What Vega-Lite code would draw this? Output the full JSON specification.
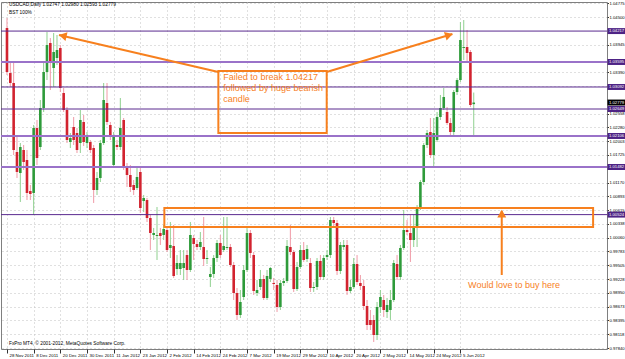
{
  "$schema": "https://vega.github.io/schema/vega-lite/v6.json",
  "width": 606,
  "height": 347,
  "autosize": {"type": "none"},
  "padding": {"left": 1, "top": 2, "right": 18, "bottom": 10},
  "background": "white",
  "config": {
    "view": {"stroke": "#7f7f7f", "strokeWidth": 1},
    "font": "Liberation Sans",
    "axis": {"labelFont": "Liberation Sans", "labelColor": "#000000", "labelOverlap": false, "labelFlush": false, "labelBound": false}
  },
  "resolve": {"axis": {"x": "independent", "y": "independent"}},
  "datasets": {
    "candles": [
      {"i":0,"o":1.04279,"h":1.04480,"l":1.03333,"c":1.03393},
      {"i":1,"o":1.03373,"h":1.03595,"l":1.03092,"c":1.03172},
      {"i":2,"o":1.03172,"h":1.03595,"l":1.01723,"c":1.01824},
      {"i":3,"o":1.01784,"h":1.02086,"l":1.01261,"c":1.01382},
      {"i":4,"o":1.01361,"h":1.01965,"l":1.00778,"c":1.01884},
      {"i":5,"o":1.01824,"h":1.01925,"l":1.01422,"c":1.01583},
      {"i":6,"o":1.01623,"h":1.01824,"l":1.00818,"c":1.00959},
      {"i":7,"o":1.00999,"h":1.01120,"l":1.00818,"c":1.00939},
      {"i":8,"o":1.00959,"h":1.02327,"l":1.00516,"c":1.02267},
      {"i":9,"o":1.02267,"h":1.02428,"l":1.01522,"c":1.01663},
      {"i":10,"o":1.01884,"h":1.02830,"l":1.01824,"c":1.02669},
      {"i":11,"o":1.02669,"h":1.03595,"l":1.02589,"c":1.03393},
      {"i":12,"o":1.03393,"h":1.04198,"l":1.03232,"c":1.03937},
      {"i":13,"o":1.03977,"h":1.04077,"l":1.03031,"c":1.03574},
      {"i":14,"o":1.03474,"h":1.04178,"l":1.03092,"c":1.03796},
      {"i":15,"o":1.03675,"h":1.04138,"l":1.03534,"c":1.03836},
      {"i":16,"o":1.03876,"h":1.03937,"l":1.02991,"c":1.03071},
      {"i":17,"o":1.02971,"h":1.03071,"l":1.02589,"c":1.02629},
      {"i":18,"o":1.02629,"h":1.02689,"l":1.01965,"c":1.02025},
      {"i":19,"o":1.01985,"h":1.02166,"l":1.01864,"c":1.02066},
      {"i":20,"o":1.02287,"h":1.02488,"l":1.01925,"c":1.02025},
      {"i":21,"o":1.02166,"h":1.02267,"l":1.01764,"c":1.01824},
      {"i":22,"o":1.01965,"h":1.02629,"l":1.01764,"c":1.02428},
      {"i":23,"o":1.02388,"h":1.02528,"l":1.01905,"c":1.01985},
      {"i":24,"o":1.01965,"h":1.02186,"l":1.01864,"c":1.02086},
      {"i":25,"o":1.01985,"h":1.02025,"l":1.01764,"c":1.01824},
      {"i":26,"o":1.01864,"h":1.01925,"l":1.00758,"c":1.01019},
      {"i":27,"o":1.01019,"h":1.01382,"l":1.00919,"c":1.01261},
      {"i":28,"o":1.01261,"h":1.02025,"l":1.01180,"c":1.01965},
      {"i":29,"o":1.01965,"h":1.03172,"l":1.01925,"c":1.02830},
      {"i":30,"o":1.02770,"h":1.03172,"l":1.02327,"c":1.02388},
      {"i":31,"o":1.02327,"h":1.02388,"l":1.02025,"c":1.02086},
      {"i":32,"o":1.01522,"h":1.02186,"l":1.01482,"c":1.02086},
      {"i":33,"o":1.01925,"h":1.02025,"l":1.01824,"c":1.01884},
      {"i":34,"o":1.01884,"h":1.02870,"l":1.01824,"c":1.02267},
      {"i":35,"o":1.02428,"h":1.02468,"l":1.01422,"c":1.01482},
      {"i":36,"o":1.01482,"h":1.01562,"l":1.01080,"c":1.01321},
      {"i":37,"o":1.01321,"h":1.01522,"l":1.00979,"c":1.01080},
      {"i":38,"o":1.01120,"h":1.01221,"l":1.00919,"c":1.01019},
      {"i":39,"o":1.01060,"h":1.01482,"l":1.01019,"c":1.01281},
      {"i":40,"o":1.01382,"h":1.01482,"l":1.00556,"c":1.00657},
      {"i":41,"o":1.00798,"h":1.00919,"l":1.00577,"c":1.00858},
      {"i":42,"o":1.00818,"h":1.00858,"l":1.00375,"c":1.00456},
      {"i":43,"o":1.00456,"h":1.00516,"l":0.99812,"c":1.00154},
      {"i":44,"o":1.00114,"h":1.00255,"l":1.00013,"c":1.00154},
      {"i":45,"o":1.00094,"h":1.00677,"l":0.99611,"c":1.00114},
      {"i":46,"o":1.00154,"h":1.00255,"l":0.99913,"c":1.00094},
      {"i":47,"o":1.00114,"h":1.00315,"l":1.00013,"c":1.00235},
      {"i":48,"o":1.00214,"h":1.00255,"l":0.99772,"c":0.99812},
      {"i":49,"o":0.99852,"h":1.00375,"l":0.99651,"c":0.99913},
      {"i":50,"o":0.99892,"h":1.00315,"l":0.99249,"c":0.99289},
      {"i":51,"o":0.99430,"h":0.99711,"l":0.99309,"c":0.99550},
      {"i":52,"o":0.99430,"h":0.99812,"l":0.99309,"c":0.99550},
      {"i":53,"o":0.99450,"h":0.99812,"l":0.99208,"c":0.99550},
      {"i":54,"o":0.99711,"h":0.99812,"l":0.99208,"c":0.99410},
      {"i":55,"o":0.99410,"h":1.00375,"l":0.99369,"c":1.00114},
      {"i":56,"o":1.00053,"h":1.00114,"l":0.99611,"c":0.99933},
      {"i":57,"o":0.99933,"h":1.00013,"l":0.99812,"c":0.99872},
      {"i":58,"o":0.99872,"h":1.00174,"l":0.99812,"c":0.99973},
      {"i":59,"o":0.99872,"h":1.00476,"l":0.99490,"c":0.99631},
      {"i":60,"o":0.99631,"h":0.99812,"l":0.99530,"c":0.99651},
      {"i":61,"o":0.99269,"h":0.99470,"l":0.99068,"c":0.99329},
      {"i":62,"o":0.99329,"h":0.99711,"l":0.99249,"c":0.99651},
      {"i":63,"o":0.99651,"h":1.00013,"l":0.99571,"c":0.99953},
      {"i":64,"o":0.99953,"h":1.00114,"l":0.99651,"c":0.99711},
      {"i":65,"o":0.99812,"h":1.00476,"l":0.99772,"c":0.99892},
      {"i":66,"o":0.99852,"h":1.00476,"l":0.99812,"c":0.99872},
      {"i":67,"o":0.99872,"h":0.99933,"l":0.99470,"c":0.99510},
      {"i":68,"o":0.99510,"h":0.99571,"l":0.98806,"c":0.98947},
      {"i":69,"o":0.98947,"h":0.99047,"l":0.98404,"c":0.98504},
      {"i":70,"o":0.98504,"h":0.99007,"l":0.98444,"c":0.98766},
      {"i":71,"o":0.98866,"h":0.99510,"l":0.98806,"c":0.99410},
      {"i":72,"o":0.99410,"h":1.00255,"l":0.99369,"c":1.00154},
      {"i":73,"o":1.00154,"h":1.00214,"l":0.99651,"c":0.99752},
      {"i":74,"o":0.99711,"h":0.99772,"l":0.98907,"c":0.98987},
      {"i":75,"o":0.98947,"h":0.99208,"l":0.98886,"c":0.99007},
      {"i":76,"o":0.99068,"h":0.99410,"l":0.99007,"c":0.99229},
      {"i":77,"o":0.99229,"h":0.99309,"l":0.98806,"c":0.98846},
      {"i":78,"o":0.98846,"h":0.99410,"l":0.98806,"c":0.99289},
      {"i":79,"o":0.99229,"h":0.99470,"l":0.99168,"c":0.99450},
      {"i":80,"o":0.99148,"h":0.99249,"l":0.99007,"c":0.99128},
      {"i":81,"o":0.99108,"h":0.99208,"l":0.98565,"c":0.98665},
      {"i":82,"o":0.98665,"h":0.99208,"l":0.98605,"c":0.99148},
      {"i":83,"o":0.99148,"h":0.99249,"l":0.99088,"c":0.99188},
      {"i":84,"o":0.99188,"h":1.00013,"l":0.99148,"c":0.99892},
      {"i":85,"o":0.99872,"h":1.00315,"l":0.99711,"c":0.99772},
      {"i":86,"o":0.99772,"h":0.99812,"l":0.98967,"c":0.99027},
      {"i":87,"o":0.99027,"h":0.99571,"l":0.98987,"c":0.99470},
      {"i":88,"o":0.99470,"h":0.99913,"l":0.99430,"c":0.99812},
      {"i":89,"o":0.99812,"h":0.99973,"l":0.99571,"c":0.99611},
      {"i":90,"o":0.99631,"h":0.99913,"l":0.99571,"c":0.99832},
      {"i":91,"o":0.99550,"h":0.99651,"l":0.98967,"c":0.99047},
      {"i":92,"o":0.99047,"h":0.99168,"l":0.98967,"c":0.99068},
      {"i":93,"o":0.99068,"h":0.99651,"l":0.99007,"c":0.99591},
      {"i":94,"o":0.99591,"h":0.99711,"l":0.99208,"c":0.99269},
      {"i":95,"o":0.99269,"h":0.99711,"l":0.99208,"c":0.99651},
      {"i":96,"o":0.99671,"h":0.99812,"l":0.99611,"c":0.99711},
      {"i":97,"o":0.99711,"h":1.00476,"l":0.99651,"c":1.00416},
      {"i":98,"o":1.00416,"h":1.00476,"l":1.00275,"c":1.00355},
      {"i":99,"o":1.00355,"h":1.00416,"l":0.99309,"c":0.99390},
      {"i":100,"o":0.99390,"h":0.99973,"l":0.99329,"c":0.99913},
      {"i":101,"o":0.99872,"h":1.00013,"l":0.99812,"c":0.99913},
      {"i":102,"o":0.99913,"h":1.00013,"l":0.98907,"c":0.98987},
      {"i":103,"o":0.98987,"h":0.99208,"l":0.98947,"c":0.99068},
      {"i":104,"o":0.99068,"h":0.99651,"l":0.99027,"c":0.99530},
      {"i":105,"o":0.99530,"h":0.99711,"l":0.99108,"c":0.99168},
      {"i":106,"o":0.99148,"h":0.99309,"l":0.99007,"c":0.99088},
      {"i":107,"o":0.99088,"h":0.99208,"l":0.98605,"c":0.98685},
      {"i":108,"o":0.98685,"h":0.98806,"l":0.98202,"c":0.98303},
      {"i":109,"o":0.98404,"h":0.98605,"l":0.98202,"c":0.98303},
      {"i":110,"o":0.98404,"h":0.98504,"l":0.97961,"c":0.98102},
      {"i":111,"o":0.98102,"h":0.98766,"l":0.98001,"c":0.98665},
      {"i":112,"o":0.98665,"h":0.99007,"l":0.98544,"c":0.98866},
      {"i":113,"o":0.98806,"h":0.98907,"l":0.98464,"c":0.98605},
      {"i":114,"o":0.98565,"h":0.98846,"l":0.98444,"c":0.98705},
      {"i":115,"o":0.98605,"h":0.99007,"l":0.98404,"c":0.98806},
      {"i":116,"o":0.98806,"h":0.99611,"l":0.98766,"c":0.99550},
      {"i":117,"o":0.99530,"h":0.99711,"l":0.99208,"c":0.99269},
      {"i":118,"o":0.99269,"h":0.99913,"l":0.99208,"c":0.99852},
      {"i":119,"o":0.99852,"h":1.00617,"l":0.99812,"c":1.00214},
      {"i":120,"o":1.00214,"h":1.00416,"l":1.00114,"c":1.00174},
      {"i":121,"o":1.00154,"h":1.00516,"l":0.99571,"c":1.00013},
      {"i":122,"o":1.00013,"h":1.00516,"l":0.99872,"c":1.00275},
      {"i":123,"o":1.00275,"h":1.00717,"l":0.99872,"c":1.00677},
      {"i":124,"o":1.00677,"h":1.01221,"l":1.00617,"c":1.01180},
      {"i":125,"o":1.01180,"h":1.01965,"l":1.01120,"c":1.01925},
      {"i":126,"o":1.01925,"h":1.02226,"l":1.01864,"c":1.02166},
      {"i":127,"o":1.02186,"h":1.02468,"l":1.01663,"c":1.01723},
      {"i":128,"o":1.01723,"h":1.02468,"l":1.01482,"c":1.02166},
      {"i":129,"o":1.02025,"h":1.02589,"l":1.01985,"c":1.02488},
      {"i":130,"o":1.02488,"h":1.02931,"l":1.02428,"c":1.02669},
      {"i":131,"o":1.02669,"h":1.03071,"l":1.02629,"c":1.02890},
      {"i":132,"o":1.02589,"h":1.02689,"l":1.02327,"c":1.02367},
      {"i":133,"o":1.02367,"h":1.02468,"l":1.02086,"c":1.02186},
      {"i":134,"o":1.02186,"h":1.03031,"l":1.02126,"c":1.02991},
      {"i":135,"o":1.02991,"h":1.03273,"l":1.02931,"c":1.03232},
      {"i":136,"o":1.03232,"h":1.04399,"l":1.03192,"c":1.04037},
      {"i":137,"o":1.03876,"h":1.04440,"l":1.03635,"c":1.03896},
      {"i":138,"o":1.03896,"h":1.04238,"l":1.03595,"c":1.03776},
      {"i":139,"o":1.03796,"h":1.03836,"l":1.02689,"c":1.02729},
      {"i":140,"o":1.02747,"h":1.02980,"l":1.02106,"c":1.02779}
    ],
    "levels": [
      {"p":1.04217,"kind":"dark"},
      {"p":1.03595,"kind":"light"},
      {"p":1.03092,"kind":"dark"},
      {"p":1.02649,"kind":"dark"},
      {"p":1.02106,"kind":"light"},
      {"p":1.01482,"kind":"light"},
      {"p":1.00524,"kind":"dark"}
    ],
    "tags": [
      {"p":1.04217,"kind":"level"},
      {"p":1.03595,"kind":"level"},
      {"p":1.03092,"kind":"level"},
      {"p":1.02779,"kind":"bid"},
      {"p":1.02649,"kind":"level"},
      {"p":1.02106,"kind":"level"},
      {"p":1.01482,"kind":"level"},
      {"p":1.00524,"kind":"level"}
    ],
    "boxes": [
      {"i":63.4,"i2":95.9,"p":1.03413,"p2":1.02166},
      {"i":47.2,"i2":175.8,"p":1.00657,"p2":1.00275}
    ],
    "arrows": [
      {"a":"left","i":63.4,"p":1.03393},
      {"a":"left","i":15.6,"p":1.04138},
      {"a":"right","i":95.9,"p":1.03393},
      {"a":"right","i":133.6,"p":1.04158},
      {"a":"up","i":148.4,"p":0.99309},
      {"a":"up","i":148.4,"p":1.00597}
    ],
    "notes": [
      {"i":64.9,"p":1.03373,"t":"Failed to break 1.04217\nfollowed by huge bearish\ncandle"},
      {"i":138.3,"p":0.99188,"t":"Would love to buy here"}
    ]
  },
  "layer": [
    {
      "data": {"name": "candles"},
      "mark": {"type": "rule", "strokeWidth": 1},
      "encoding": {
        "x": {
          "field": "i", "type": "quantitative",
          "scale": {"domain": [-0.295, 178.47], "nice": false, "zero": false},
          "axis": {
            "title": null, "orient": "bottom",
            "values": [0,8,16,24,32,40,48,56,64,72,80,88,96,104,112,120,128,136],
            "labelExpr": "['28 Nov 2011','8 Dec 2011','20 Dec 2011','30 Dec 2011','11 Jan 2012','23 Jan 2012','2 Feb 2012','14 Feb 2012','24 Feb 2012','7 Mar 2012','19 Mar 2012','29 Mar 2012','10 Apr 2012','20 Apr 2012','2 May 2012','14 May 2012','24 May 2012','5 Jun 2012'][round(datum.value/8)]",
            "labelAlign": "left", "labelBaseline": "top", "labelFontSize": 4.4, "labelPadding": 0, "labelOffset": 2,
            "tickSize": 4, "tickColor": "#333333", "domain": false,
            "grid": true, "gridColor": "#c0c0c0", "gridDash": [1, 3], "labelOverlap": false, "labelFlush": false
          }
        },
        "y": {
          "field": "l", "type": "quantitative",
          "scale": {"domain": [0.9782, 1.04802], "nice": false, "zero": false},
          "axis": {
            "title": null, "orient": "right",
            "values": [1.04775,1.045,1.03945,1.0339,1.03113,1.02558,1.0228,1.02003,1.01725,1.0117,1.00893,1.00615,1.00338,1.0006,0.99783,0.99505,0.99228,0.9895,0.98673,0.98395,0.98118,0.9784],
            "format": ".5f", "labelFontSize": 4.2, "labelPadding": 0.5, "tickSize": 1.5, "tickColor": "#333333",
            "domain": false, "labelOverlap": false, "labelFlush": false,
            "grid": true, "gridColor": "#c0c0c0", "gridDash": [1, 3]
          }
        },
        "y2": {"field": "h"},
        "color": {"condition": {"test": "datum.c >= datum.o", "value": "#8fd08f"}, "value": "#f09aa6"}
      }
    },
    {
      "data": {"name": "candles"},
      "mark": {"type": "bar", "width": 2.6},
      "encoding": {
        "x": {"field": "i", "type": "quantitative", "axis": null},
        "y": {"field": "o", "type": "quantitative", "axis": null},
        "y2": {"field": "c"},
        "color": {"condition": {"test": "datum.c >= datum.o", "value": "#2e9b3a"}, "value": "#d2232f"}
      }
    },
    {
      "data": {"name": "levels"},
      "mark": {"type": "rule"},
      "encoding": {
        "y": {"field": "p", "type": "quantitative", "axis": null},
        "color": {"condition": {"test": "datum.kind == 'light'", "value": "#9a72c9"}, "value": "#5a2a8f"},
        "strokeWidth": {"condition": {"test": "datum.kind == 'light'", "value": 2}, "value": 1}
      }
    },
    {
      "data": {"name": "boxes"},
      "mark": {"type": "rect", "fill": null, "fillOpacity": 0, "stroke": "#f7801e", "strokeWidth": 2},
      "encoding": {
        "x": {"field": "i", "type": "quantitative", "axis": null},
        "x2": {"field": "i2"},
        "y": {"field": "p", "type": "quantitative", "axis": null},
        "y2": {"field": "p2"}
      }
    },
    {
      "data": {"name": "arrows"},
      "mark": {"type": "line", "color": "#f7801e", "strokeWidth": 2},
      "encoding": {
        "x": {"field": "i", "type": "quantitative", "axis": null},
        "y": {"field": "p", "type": "quantitative", "axis": null},
        "detail": {"field": "a"}
      }
    },
    {
      "data": {"values": [{"i":17.1,"p":1.04116}]},
      "mark": {"type": "point", "shape": "triangle", "filled": true, "color": "#f7801e", "size": 80, "angle": 283, "opacity": 1},
      "encoding": {"x": {"field": "i", "type": "quantitative", "axis": null}, "y": {"field": "p", "type": "quantitative", "axis": null}}
    },
    {
      "data": {"values": [{"i":132.2,"p":1.0413}]},
      "mark": {"type": "point", "shape": "triangle", "filled": true, "color": "#f7801e", "size": 80, "angle": 73, "opacity": 1},
      "encoding": {"x": {"field": "i", "type": "quantitative", "axis": null}, "y": {"field": "p", "type": "quantitative", "axis": null}}
    },
    {
      "data": {"values": [{"i":148.4,"p":1.00516}]},
      "mark": {"type": "point", "shape": "triangle", "filled": true, "color": "#f7801e", "size": 80, "angle": 0, "opacity": 1},
      "encoding": {"x": {"field": "i", "type": "quantitative", "axis": null}, "y": {"field": "p", "type": "quantitative", "axis": null}}
    },
    {
      "data": {"name": "notes"},
      "mark": {"type": "text", "align": "left", "baseline": "top", "fontSize": 9, "color": "#f7801e", "lineBreak": "\n", "lineHeight": 11},
      "encoding": {
        "x": {"field": "i", "type": "quantitative", "axis": null},
        "y": {"field": "p", "type": "quantitative", "axis": null},
        "text": {"field": "t"}
      }
    },
    {
      "data": {"name": "tags"},
      "transform": [{"calculate": "datum.p - 0.0006", "as": "lo"}, {"calculate": "datum.p + 0.0006", "as": "hi"}],
      "mark": {"type": "rect", "x": 606.5, "x2": 625},
      "encoding": {
        "y": {"field": "lo", "type": "quantitative", "axis": null},
        "y2": {"field": "hi"},
        "color": {"condition": {"test": "datum.kind == 'bid'", "value": "#000000"}, "value": "#4e2385"}
      }
    },
    {
      "data": {"name": "tags"},
      "mark": {"type": "text", "align": "left", "baseline": "middle", "fontSize": 4.2, "color": "white", "x": 608},
      "encoding": {
        "y": {"field": "p", "type": "quantitative", "axis": null},
        "text": {"field": "p", "type": "quantitative", "format": ".5f"}
      }
    },
    {
      "data": {"values": [
        {"i":0.6,"p":1.04741,"t":"USDCAD,Daily  1.02747 1.02980 1.02593 1.02779"},
        {"i":0.6,"p":1.04580,"t":"BST    100%"},
        {"i":0.6,"p":0.97921,"t":"FxPro MT4, © 2001-2012, MetaQuotes Software Corp."}
      ]},
      "mark": {"type": "text", "align": "left", "baseline": "middle", "fontSize": 4.8, "color": "#000000"},
      "encoding": {
        "x": {"field": "i", "type": "quantitative", "axis": null},
        "y": {"field": "p", "type": "quantitative", "axis": null},
        "text": {"field": "t"}
      }
    }
  ]
}
